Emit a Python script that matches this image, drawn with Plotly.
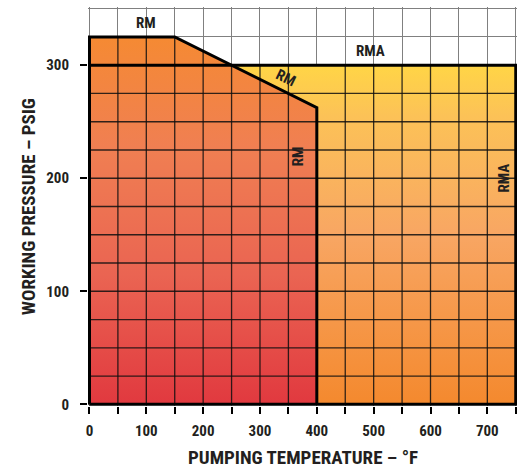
import numpy as np
import plotly.graph_objects as go

# ---- data ----
rma_temp = [0, 0, 750, 750]
rma_press = [0, 300, 300, 0]
rm_temp = [0, 0, 150, 400, 400]
rm_press = [0, 325, 325, 262.5, 0]

x_tick_vals = [0, 100, 200, 300, 400, 500, 600, 700]
x_tick_text = ["0", "100", "200", "300", "400", "500", "600", "700"]
y_tick_vals = [0, 100, 200, 300]
y_tick_text = ["0", "100", "200", "300"]
x_grid_step = 50
y_grid_step = 25
x_max = 750
y_max = 350

labels = [
    dict(text="RM", x=100, y=337.5, angle=0),
    dict(text="RMA", x=495, y=312.5, angle=0),
    dict(text="RM", x=346, y=289, angle=26),
    dict(text="RM", x=366, y=219, angle=-90),
    dict(text="RMA", x=730, y=200, angle=-90),
]

FONT = "Liberation Sans Narrow, Roboto Condensed, Roboto, Arial, sans-serif"
INK = "#231f20"

fig = go.Figure()

# RMA region (yellow -> orange gradient)
fig.add_trace(go.Scatter(
    x=rma_temp, y=rma_press, mode="none", fill="toself",
    fillgradient=dict(type="vertical", start=0, stop=300,
                      colorscale=[[0, "#f4892e"], [0.5, "#f8a663"],
                                  [0.85, "#fcc257"], [1, "#ffd546"]]),
    hoverinfo="skip", showlegend=False))

# RM region (orange -> red gradient)
fig.add_trace(go.Scatter(
    x=rm_temp, y=rm_press, mode="none", fill="toself",
    fillgradient=dict(type="vertical", start=0, stop=325,
                      colorscale=[[0, "#e1393f"], [0.35, "#ea6452"],
                                  [0.7, "#f07f52"], [1, "#f58a33"]]),
    hoverinfo="skip", showlegend=False))

# dark grid lines over the coloured regions
def rm_top(x):
    if x <= max(rm_temp):
        return float(np.interp(x, rm_temp[1:4], rm_press[1:4]))
    return 0.0

gx, gy = [], []
for xv in np.arange(x_grid_step, x_max, x_grid_step):
    if xv == 400:
        continue
    top = max(300.0, rm_top(xv))
    gx += [xv, xv, None]
    gy += [0, top, None]
for yv in np.arange(y_grid_step, 300, y_grid_step):
    gx += [0, x_max, None]
    gy += [yv, yv, None]
fig.add_trace(go.Scatter(x=gx, y=gy, mode="lines",
                         line=dict(color="rgba(15,15,15,0.85)", width=1.3),
                         hoverinfo="skip", showlegend=False))

# thick outlines
fig.add_trace(go.Scatter(x=rma_temp + [rma_temp[0]], y=rma_press + [rma_press[0]],
                         mode="lines", line=dict(color="#000", width=3),
                         hoverinfo="skip", showlegend=False))
fig.add_trace(go.Scatter(x=rm_temp, y=rm_press, mode="lines",
                         line=dict(color="#000", width=3),
                         hoverinfo="skip", showlegend=False))

for lb in labels:
    fig.add_annotation(x=lb["x"], y=lb["y"], text=lb["text"], showarrow=False,
                       textangle=lb["angle"],
                       font=dict(family=FONT, size=15, color=INK, weight="bold"))

# axis titles
fig.add_annotation(xref="paper", yref="paper", x=0.5, y=-0.128,
                   text="PUMPING TEMPERATURE – °F", showarrow=False,
                   xanchor="center", yanchor="middle",
                   font=dict(family=FONT, size=19, color=INK, weight="bold"))
fig.add_annotation(xref="paper", yref="paper", x=-0.138, y=0.5,
                   text="WORKING PRESSURE – PSIG", showarrow=False, textangle=-90,
                   xanchor="center", yanchor="middle",
                   font=dict(family=FONT, size=19, color=INK, weight="bold"))

grid_color = "#808080"
fig.update_layout(
    width=517, height=470,
    margin=dict(l=88, r=0, t=7, b=64, autoexpand=False),
    paper_bgcolor="white", plot_bgcolor="white",
    xaxis=dict(range=[-2.6, 752.2], tickmode="array", tickvals=x_tick_vals,
               ticktext=x_tick_text, ticks="outside", ticklen=7, tickwidth=1.5,
               tickcolor="#000", showgrid=True, gridcolor=grid_color, gridwidth=1,
               zeroline=False, showline=False, ticklabelstandoff=4,
               automargin=False,
               minor=dict(dtick=x_grid_step, tick0=0, ticks="outside", ticklen=7,
                          tickwidth=1.5, tickcolor="#000", showgrid=True,
                          gridcolor=grid_color, gridwidth=1),
               tickfont=dict(family=FONT, size=15, color=INK, weight="bold"),
               fixedrange=True),
    yaxis=dict(range=[-1.5, 351.5], tickmode="array", tickvals=y_tick_vals,
               ticktext=y_tick_text, ticks="outside", ticklen=7, tickwidth=1.5,
               tickcolor="#000", showgrid=True, gridcolor=grid_color, gridwidth=1,
               zeroline=False, showline=False, ticklabelstandoff=8,
               automargin=False,
               minor=dict(dtick=y_grid_step, tick0=0, showgrid=True,
                          gridcolor=grid_color, gridwidth=1),
               tickfont=dict(family=FONT, size=15, color=INK, weight="bold"),
               fixedrange=True),
)

fig.write_html("out.html", config={"displayModeBar": False},
               post_script="document.body.style.margin='0';document.body.style.overflow='hidden';")
